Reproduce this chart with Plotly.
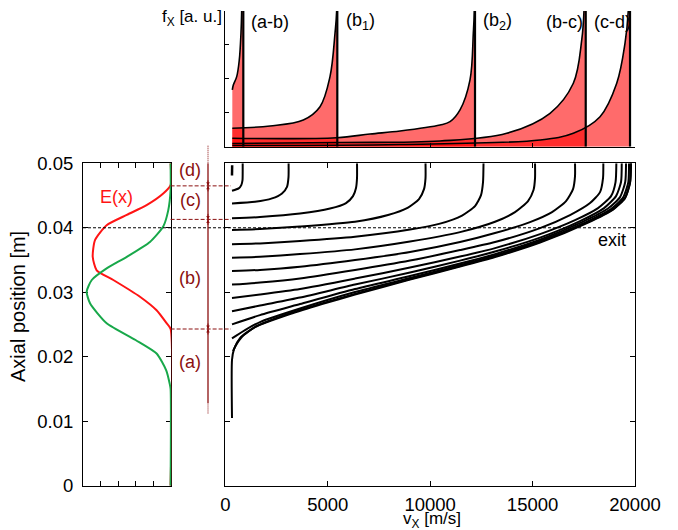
import plotly.graph_objects as go

FONT = "Liberation Sans, Arial, Helvetica, sans-serif"
DARKRED = "#8b1010"
RED = "#ff1414"
GREEN = "#18a84a"
FILL = "rgba(255,0,0,0.58)"

# ---------------- main panel: trajectories (v_x [m/s], axial position [m]) -------------
traj_blip_v = [327, 335]
traj_blip_x = [0.0481, 0.0497]

traj_A_v = [327, 654, 781, 840, 849, 849]
traj_A_x = [0.04574, 0.04611, 0.04662, 0.04740, 0.04864, 0.0500]

traj_B_v = [327, 1450, 2280, 2768, 3012, 3085, 3090]
traj_B_x = [0.04378, 0.04403, 0.04456, 0.04533, 0.04636, 0.04786, 0.0500]

traj_C_v = [327, 1694, 3647, 5111, 5893, 6234, 6381, 6430, 6430]
traj_C_x = [0.04146, 0.04166, 0.04220, 0.04298, 0.04383, 0.04491, 0.04616, 0.04771, 0.0500]

traj_D_v = [327, 1694, 3647, 6332, 7943, 8919, 9456, 9700, 9774, 9774]
traj_D_x = [0.03964, 0.03980, 0.04019, 0.04093, 0.04197, 0.04313, 0.04445, 0.04600, 0.04771, 0.0500]

traj_E_v = [327, 1694, 3647, 6332, 9017, 10482, 11556, 12190, 12483, 12581, 12605]
traj_E_x = [0.03743, 0.03758, 0.03794, 0.03860, 0.03972, 0.04065, 0.04189, 0.04337, 0.04507, 0.04709, 0.0500]

traj_F_v = [327, 1694, 3647, 6332, 9017, 11458, 13167, 14143, 14778, 15046, 15120, 15120]
traj_F_x = [0.03535, 0.03550, 0.03592, 0.03665, 0.03786, 0.03933, 0.04093, 0.04243, 0.04414, 0.04585, 0.04771, 0.0500]

traj_G_v = [327, 1694, 3647, 6332, 9017, 11458, 13167, 14875, 15950, 16633, 16975, 17072, 17072]
traj_G_x = [0.03329, 0.03347, 0.03395, 0.03499, 0.03623, 0.03778, 0.03918, 0.04088, 0.04243, 0.04414, 0.04600, 0.04802, 0.0500]

traj_H_v = [327, 1694, 3647, 6332, 9017, 11458, 13167, 15364, 16828, 17805, 18293, 18439, 18454]
traj_H_x = [0.03119, 0.03150, 0.03212, 0.03344, 0.03491, 0.03654, 0.03778, 0.03995, 0.04197, 0.04383, 0.04553, 0.04771, 0.0500]

traj_I_v = [327, 1694, 3647, 6332, 9017, 11458, 13167, 15364, 17072, 18195, 18830, 19050, 19089]
traj_I_x = [0.02910, 0.02964, 0.03050, 0.03212, 0.03383, 0.03554, 0.03685, 0.03902, 0.04119, 0.04305, 0.04491, 0.04709, 0.0500]

traj_J_v = [327, 1694, 3647, 6332, 9017, 11458, 13167, 15364, 17317, 18488, 19074, 19318, 19352]
traj_J_x = [0.02704, 0.02794, 0.02918, 0.03119, 0.03305, 0.03491, 0.03631, 0.03848, 0.04104, 0.04305, 0.04491, 0.04709, 0.0500]

traj_K_v = [327, 1694, 3647, 6332, 9017, 11458, 13167, 15364, 17414, 18683, 19269, 19523, 19562]
traj_K_x = [0.02502, 0.02646, 0.02817, 0.03050, 0.03251, 0.03445, 0.03592, 0.03817, 0.04088, 0.04298, 0.04476, 0.04709, 0.0500]

traj_L_v = [327, 962, 1694, 3647, 6332, 9017, 11458, 13167, 15364, 17561, 18830, 19416, 19674, 19709]
traj_L_x = [0.02285, 0.02414, 0.02538, 0.02747, 0.03003, 0.03220, 0.03422, 0.03569, 0.03794, 0.04081, 0.04290, 0.04468, 0.04709, 0.0500]

traj_M_v = [327, 327, 425, 718, 1450, 3159, 4721, 6332, 9017, 11458, 13167, 15364, 17658, 18928, 19513, 19757, 19806]
traj_M_x = [0.01051, 0.01949, 0.02119, 0.02290, 0.02460, 0.02662, 0.02817, 0.02964, 0.03197, 0.03398, 0.03546,
            0.03771, 0.04073, 0.04282, 0.04460, 0.04693, 0.0500]

traj_N_v = [376, 522, 815, 1499, 3159, 6332, 9017, 11458, 13167, 15364, 17658, 18928, 19513, 19757, 19806]
traj_N_x = [0.02088, 0.02180, 0.02310, 0.02470, 0.02675, 0.02975, 0.03207, 0.03408, 0.03556, 0.03781, 0.04083,
            0.04290, 0.04468, 0.04700, 0.0500]

trajectories = [
    (traj_A_v, traj_A_x), (traj_B_v, traj_B_x), (traj_C_v, traj_C_x), (traj_D_v, traj_D_x),
    (traj_E_v, traj_E_x), (traj_F_v, traj_F_x), (traj_G_v, traj_G_x), (traj_H_v, traj_H_x),
    (traj_I_v, traj_I_x), (traj_J_v, traj_J_x), (traj_K_v, traj_K_x), (traj_L_v, traj_L_x),
    (traj_M_v, traj_M_x), (traj_N_v, traj_N_x),
]

# ---------------- left panel: field E(x) and S(x) profiles -------------
E_pos = [0.0, 0.0243, 0.0252, 0.0272, 0.0293, 0.0319, 0.0334, 0.0355, 0.0381, 0.0404, 0.0420, 0.0435, 0.0453, 0.0466, 0.0500]
E_val = [0.0, 0.0, -0.046, -0.16, -0.35, -0.654, -0.844, -0.889, -0.863, -0.73, -0.50, -0.274, -0.084, 0.0, 0.0]

S_pos = [0.0, 0.0150, 0.0158, 0.0179, 0.0205, 0.0226, 0.0252, 0.0283, 0.0301, 0.0319, 0.0337, 0.0355, 0.0378,
         0.0402, 0.0427, 0.0458, 0.0500]
S_val = [0.0, 0.0, -0.010, -0.050, -0.16, -0.40, -0.73, -0.92, -0.958, -0.90, -0.73, -0.50, -0.236,
         -0.084, -0.027, 0.0, 0.0]

region_bounds = [0.0243, 0.0413, 0.0465]
region_labels = ["(a)", "(b)", "(c)", "(d)"]
region_label_pos = [0.01922, 0.03225, 0.04429, 0.04895]
exit_pos = 0.04

# ---------------- top panel: velocity distributions f_x -------------
fx_ab_v = [342, 391, 557, 683, 766, 801, 870]
fx_ab_f = [1.673, 1.820, 2.065, 2.558, 3.354, 4.03, 10.0]
fx_b1_v = [342, 2182, 3808, 4623, 5111, 5355, 5438, 5460]
fx_b1_f = [0.543, 0.611, 0.788, 1.180, 2.065, 3.345, 4.03, 10.0]
fx_b2_v = [342, 5438, 7064, 8529, 10482, 10970, 11458, 11946, 12107, 12156, 12180]
fx_b2_f = [0.248, 0.265, 0.375, 0.463, 0.640, 0.737, 1.083, 1.968, 3.345, 4.03, 10.0]
fx_bc_v = [342, 5600, 10482, 13738, 15852, 16989, 17400, 17512, 17580]
fx_bc_f = [0.094, 0.124, 0.168, 0.395, 0.985, 1.870, 3.147, 4.03, 10.0]
fx_cd_v = [342, 8529, 15364, 16989, 18293, 19108, 19513, 19674, 19740]
fx_cd_f = [0.035, 0.065, 0.198, 0.395, 0.885, 1.870, 3.050, 4.03, 10.0]
fx_peak_v = [879, 5468, 12190, 17595, 19757]
fx_labels = ["(a-b)", "(b<sub>1</sub>)", "(b<sub>2</sub>)", "(b-c)", "(c-d)"]
fx_label_v = [1172, 5795, 12468, 15574, 17888]

x_ticks = [0, 5000, 10000, 15000, 20000]
x_tick_text = ["0", "5000", "10000", "15000", "20000"]
y_ticks = [0, 0.01, 0.02, 0.03, 0.04, 0.05]
y_tick_text = ["0", "0.01", "0.02", "0.03", "0.04", "0.05"]

# ---------------- layout geometry -------------
W, H = 678, 530
main_x_dom = [225.3 / W, 635.0 / W]
main_y_dom = [1 - 485.7 / H, 1 - 163.3 / H]
left_x_dom = [83.0 / W, 171.3 / W]
top_y_dom = [1 - 146.7 / H, 1 - 11.0 / H]
bracket_x = 208.0 / W

fig = go.Figure()

# main trajectories
for v, x in trajectories:
    fig.add_trace(go.Scatter(x=v, y=x, xaxis="x", yaxis="y", mode="lines",
                             line=dict(color="black", width=2, shape="spline", smoothing=0.6),
                             hoverinfo="skip"))
fig.add_trace(go.Scatter(x=traj_blip_v, y=traj_blip_x, xaxis="x", yaxis="y", mode="lines",
                         line=dict(color="black", width=2.5), hoverinfo="skip"))

# left panel profiles
fig.add_trace(go.Scatter(x=E_val, y=E_pos, xaxis="x2", yaxis="y2", mode="lines",
                         line=dict(color=RED, width=2, shape="spline", smoothing=0.6), hoverinfo="skip"))
fig.add_trace(go.Scatter(x=S_val, y=S_pos, xaxis="x2", yaxis="y2", mode="lines",
                         line=dict(color=GREEN, width=2, shape="spline", smoothing=0.6), hoverinfo="skip"))

# top panel distributions
for v, f in [(fx_ab_v, fx_ab_f), (fx_b1_v, fx_b1_f), (fx_b2_v, fx_b2_f), (fx_bc_v, fx_bc_f), (fx_cd_v, fx_cd_f)]:
    fig.add_trace(go.Scatter(x=v, y=f, xaxis="x3", yaxis="y3", mode="lines", fill="tozeroy",
                             fillcolor=FILL, line=dict(color="black", width=1.6, shape="spline", smoothing=1.0),
                             hoverinfo="skip"))
for pv in fx_peak_v:
    fig.add_trace(go.Scatter(x=[pv, pv], y=[0, 4.05], xaxis="x3", yaxis="y3", mode="lines",
                             line=dict(color="black", width=2.2), hoverinfo="skip"))

axis_common = dict(showgrid=False, zeroline=False, showline=True, linecolor="black", linewidth=1,
                   ticks="inside", tickcolor="black", tickwidth=1, automargin=False)

fig.update_layout(
    width=W, height=H, margin=dict(l=0, r=0, t=0, b=0, autoexpand=False),
    paper_bgcolor="white", plot_bgcolor="rgba(0,0,0,0)", showlegend=False,
    font=dict(family=FONT, size=18, color="black"),
    xaxis=dict(domain=main_x_dom, range=[0, 20000], anchor="y", tickvals=x_ticks, ticktext=x_tick_text,
               ticklen=5, mirror="ticks", tickfont=dict(size=18.5), ticklabelstandoff=2, **axis_common),
    yaxis=dict(domain=main_y_dom, range=[0, 0.05], anchor="x", tickvals=y_ticks, showticklabels=False,
               ticklen=5, mirror="ticks", **axis_common),
    xaxis2=dict(domain=left_x_dom, range=[-1, 0.008], anchor="y2", tickvals=[-0.8, -0.6, -0.4, -0.2],
                showticklabels=False, ticklen=5, mirror="ticks", layer="below traces", **axis_common),
    yaxis2=dict(domain=main_y_dom, range=[0, 0.05], anchor="x2", tickvals=y_ticks, ticktext=y_tick_text,
                ticklen=5, mirror="ticks", layer="below traces", tickfont=dict(size=18.5),
                ticklabelstandoff=5, **axis_common),
    xaxis3=dict(domain=main_x_dom, range=[0, 20000], anchor="y3", tickvals=x_ticks, showticklabels=False,
                ticklen=4, **axis_common),
    yaxis3=dict(domain=top_y_dom, range=[0, 4], anchor="x3", tickvals=[0, 1, 2, 3, 4], showticklabels=False,
                ticklen=4, **axis_common),
)

shapes = []
# exit line (black dashed) across left panel and main panel
shapes.append(dict(type="line", xref="paper", yref="y2", x0=left_x_dom[0], x1=main_x_dom[1],
                   y0=exit_pos, y1=exit_pos, line=dict(color="black", width=1, dash="3px,2px")))
# region boundaries (dark red dashed)
for b in region_bounds:
    shapes.append(dict(type="line", xref="paper", yref="y2", x0=left_x_dom[1] - 0.001, x1=231.0 / W,
                       y0=b, y1=b, line=dict(color=DARKRED, width=1, dash="4px,2px")))
# region bracket line
shapes.append(dict(type="line", xref="paper", yref="y2", x0=bracket_x, x1=bracket_x, y0=0.0128, y1=0.05,
                   line=dict(color=DARKRED, width=1.3)))
shapes.append(dict(type="line", xref="paper", yref="y2", x0=bracket_x, x1=bracket_x, y0=0.0112, y1=0.0128,
                   line=dict(color=DARKRED, width=1, dash="1px,1px")))
shapes.append(dict(type="line", xref="paper", yref="paper", x0=bracket_x, x1=bracket_x,
                   y0=main_y_dom[1], y1=1 - 145.0 / H, line=dict(color=DARKRED, width=1, dash="1px,1px")))
fig.update_layout(shapes=shapes)

ann = []
for lab, p in zip(region_labels, region_label_pos):
    ann.append(dict(text=lab, xref="paper", yref="y2", x=190.0 / W, y=p, showarrow=False,
                    font=dict(color=DARKRED, size=18), xanchor="center", yanchor="middle"))
for b in region_bounds:
    for ay in (-7, 7):
        ann.append(dict(text="", xref="paper", yref="y2", x=bracket_x, y=b, showarrow=True, ax=0, ay=ay,
                        arrowhead=2, arrowsize=0.7, arrowwidth=1, arrowcolor=DARKRED, standoff=0))
ann.append(dict(text="E(x)", xref="x2", yref="y2", x=-0.612, y=0.0448, showarrow=False,
                font=dict(color=RED, size=18)))
ann.append(dict(text="S(x)", xref="x2", yref="y2", x=-1.24, y=0.0241, showarrow=False,
                font=dict(color=GREEN, size=18)))
ann.append(dict(text="exit", xref="x", yref="y", x=19680, y=exit_pos, xanchor="right", yanchor="top",
                showarrow=False, font=dict(size=18)))
for lab, lv in zip(fx_labels, fx_label_v):
    ann.append(dict(text=lab, xref="x3", yref="y3", x=lv, y=3.69, xanchor="left", yanchor="middle",
                    showarrow=False, font=dict(size=18)))
ann.append(dict(text="f<sub>X</sub> [a. u.]", xref="paper", yref="paper", x=224.0 / W, y=1 - 18.0 / H,
                xanchor="right", yanchor="middle", showarrow=False, font=dict(size=17)))
ann.append(dict(text="Axial position [m]", xref="paper", yref="paper", x=18.0 / W, y=1 - 307.0 / H,
                textangle=-90, xanchor="center", yanchor="middle", showarrow=False, font=dict(size=20)))
ann.append(dict(text="v<sub>X</sub> [m/s]", xref="paper", yref="paper", x=432.0 / W, y=1 - 520.0 / H,
                xanchor="center", yanchor="middle", showarrow=False, font=dict(size=17)))
fig.update_layout(annotations=ann)

fig.write_html("out.html", config={"displayModeBar": False},
               post_script="document.body.style.margin='0px';document.body.style.padding='0px';")
